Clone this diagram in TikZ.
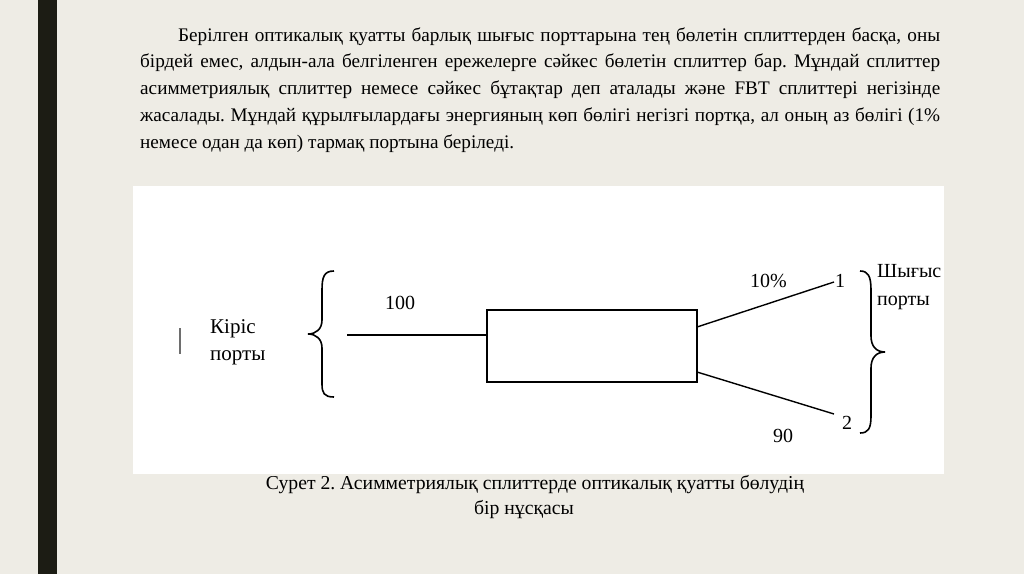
\documentclass[tikz,border=0pt]{standalone}
\usepackage{fontspec}
\setmainfont{Liberation Serif}
\definecolor{bgc}{RGB}{238,236,229}
\definecolor{barc}{RGB}{28,28,20}
\definecolor{tickc}{RGB}{110,110,110}
\tikzset{
  wire/.style={draw=black, line width=1.4pt},
  lbl/.style={anchor=base west, inner sep=0pt, font=\fontsize{20}{22}\selectfont},
}
\begin{document}
\frenchspacing
\begin{tikzpicture}[x=1pt,y=-1pt]
\useasboundingbox (0,0) rectangle (1024,574);
\fill[bgc] (0,0) rectangle (1024,574);
\fill[barc] (38,0) rectangle (57,574);
\fill[white] (133,186) rectangle (944,474);
% paragraph
\node[anchor=base west, inner sep=0pt] (para) at (140,41) {\begin{minipage}[t]{800pt}\fontsize{19.2}{26.8}\selectfont\frenchspacing
\hspace*{38pt}Берілген оптикалық қуатты барлық шығыс порттарына тең бөлетін сплиттерден басқа, оны\linebreak
бірдей емес, алдын-ала белгіленген ережелерге сәйкес бөлетін сплиттер бар. Мұндай сплиттер\linebreak
асимметриялық сплиттер немесе сәйкес бұтақтар деп аталады және FBT сплиттері негізінде\linebreak
жасалады. Мұндай құрылғылардағы энергияның көп бөлігі негізгі портқа, ал оның аз бөлігі (1\%\linebreak
немесе одан да көп) тармақ портына беріледі.\end{minipage}};
% small tick
\draw[tickc, line width=1.3pt] (180,328) -- (180,354);
% input label
\node[lbl, font=\fontsize{21}{22}\selectfont] (kiris) at (210,333) {Кіріс};
\node[lbl, font=\fontsize{21}{22}\selectfont] (kport) at (210,360) {порты};
% left brace
\draw[line width=1.6pt] (334,271) .. controls (324,271) and (322,277) .. (322,290) -- (322,320) .. controls (322,329) and (316,334) .. (308,334) .. controls (316,334) and (322,339) .. (322,348) -- (322,384) .. controls (322,393) and (324,397) .. (334,397);
% splitter box
\node[draw, line width=1.4pt, minimum width=210pt, minimum height=72pt, inner sep=0pt] (split) at (592,346) {};
\coordinate (in) at (347,335);
\draw[wire] (in) -- (split.west |- in);
\node[lbl] (l100) at (385,309) {100};
% outputs
\coordinate (s1) at (697,327);
\coordinate (s2) at (697,372);
\coordinate (o1) at (834,282);
\coordinate (o2) at (834,414);
\draw[wire] (s1) -- (o1);
\draw[wire] (s2) -- (o2);
\node[lbl] (p10) at (750,287) {10\%};
\node[lbl] (n1) at (835,287) {1};
\node[lbl] (n2) at (842,429) {2};
\node[lbl] (n90) at (773,442) {90};
% right brace
\draw[line width=1.6pt] (860,271) .. controls (868,271) and (871,276) .. (871,290) -- (871,336) .. controls (871,346) and (876,352) .. (885,352) .. controls (876,352) and (871,358) .. (871,368) -- (871,416) .. controls (871,429) and (868,433) .. (860,433);
\node[lbl] (shyg) at (877,277) {Шығыс};
\node[lbl] (sport) at (877,305) {порты};
% caption
\node[anchor=base, inner sep=0pt, font=\fontsize{19.7}{22}\selectfont] (cap1) at (535,489) {Сурет 2. Асимметриялық сплиттерде оптикалық қуатты бөлудің};
\node[anchor=base, inner sep=0pt, font=\fontsize{19.7}{22}\selectfont] (cap2) at (524,514) {бір нұсқасы};
\end{tikzpicture}
\end{document}
